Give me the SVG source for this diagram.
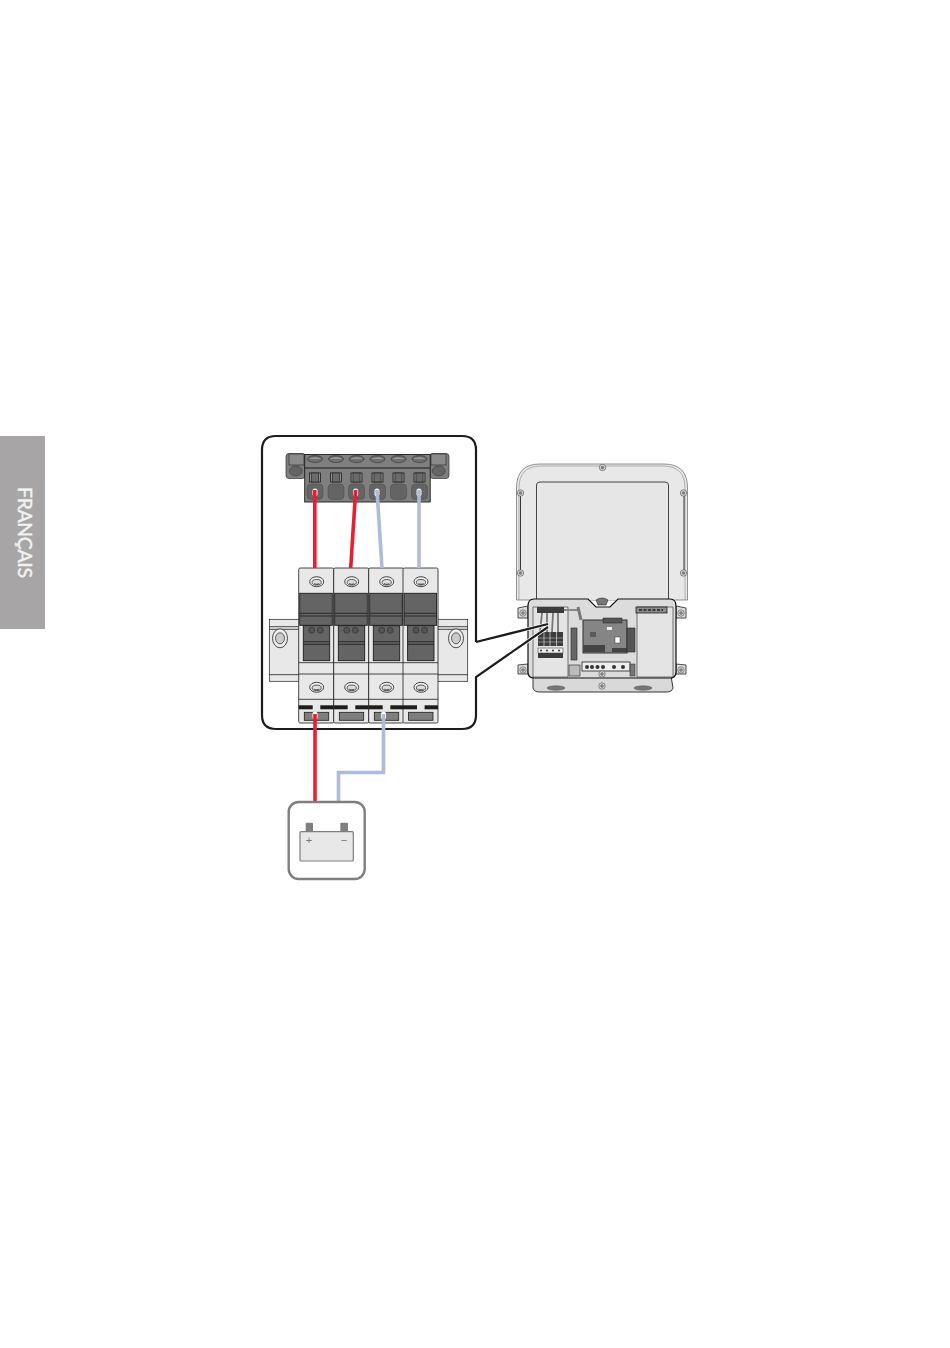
<svg xmlns="http://www.w3.org/2000/svg" width="950" height="1348" viewBox="0 0 950 1348">
<style>
.k{stroke:#1d1d1b;stroke-width:.8}
.l{fill:#e8e8e8;stroke:#1d1d1b;stroke-width:.7}
.d{fill:#656464;stroke:#1d1d1b;stroke-width:.9}
.g{fill:#807f7f;stroke:#333;stroke-width:.7}
.w{fill:none;stroke-width:3.6}
.r{stroke:#ed1c2e}.b{stroke:#aebbd9}
.t{fill:#f2f2f2;stroke:#f2f2f2;stroke-width:.45;font-family:"Lato","Open Sans",sans-serif;font-size:19.500px}
.s{fill:none;stroke:#333;stroke-width:.7}
.m{fill:#666;stroke:#222;stroke-width:.5}
</style>
<defs>
<g id="screw"><ellipse cx="0" cy="0" rx="7" ry="5" fill="#eee" stroke="#1d1d1b" stroke-width=".8"/><ellipse cx="0" cy=".6" rx="4.600" ry="2.800" fill="#ddd" stroke="#1d1d1b" stroke-width=".7"/><path d="M-2.500 1.800A2.800 1.400 0 0 0 2.500 1.800" fill="none" stroke="#1d1d1b" stroke-width=".8"/></g>
<g id="fuse">
<rect x="0" y="0" width="35" height="155" rx="1.500" fill="#e8e8e8" stroke="#1d1d1b" stroke-width=".8"/>
<rect x="1" y="25.300" width="32.600" height="32" class="d"/>
<path d="M1 45.300H33.600M1 48H33.600" class="k" fill="none"/>
<rect x="4.600" y="57.700" width="26.400" height="35" class="d"/>
<path d="M4.600 73.700H31M4.600 76.300H31" class="k" fill="none"/>
<circle cx="13" cy="62.300" r="3" fill="#555454" stroke="#222" stroke-width=".5"/><circle cx="21.600" cy="62.300" r="3" fill="#555454" stroke="#222" stroke-width=".5"/>
<path d="M0 94.700H35M0 106H35M0 131.300H35" class="k" fill="none"/>
<rect x="0" y="137.300" width="14" height="4" fill="#1d1d1b"/><rect x="21.600" y="137.300" width="13.400" height="4" fill="#1d1d1b"/>
<rect x="5.600" y="144.300" width="24.400" height="8" fill="#807f7f" stroke="#1d1d1b" stroke-width=".8"/>
<use href="#screw" x="18" y="13.700"/><use href="#screw" x="18" y="119.300"/>
</g>
<g id="sl"><ellipse cx="0" cy="0" rx="7.500" ry="3.600" fill="#6f6e6e" stroke="#333" stroke-width=".6"/><path d="M-7 0A7.500 3.600 0 0 1 7 0" fill="#9a9a9a" stroke="#333" stroke-width=".5"/></g>
<g id="port"><rect x="-5.500" y="-6" width="11" height="9" fill="#8c8c8c" stroke="#1d1d1b" stroke-width=".8"/><rect x="-3.500" y="-6" width="7" height="9" fill="#6a6a6a" stroke="#1d1d1b" stroke-width=".6"/><rect x="-8" y="5" width="16" height="15.500" rx="4" fill="#656464" stroke="#4a4a4a" stroke-width=".5"/></g>
<g id="isc"><circle r="3.200" fill="#ddd" stroke="#444" stroke-width=".6"/><circle r="1.500" fill="#888" stroke="#333" stroke-width=".3"/></g>
</defs>

<g id="tab"><rect x="0" y="436" width="45" height="193" fill="#a7a5a6"/>
<text class="t" transform="translate(18 487) rotate(90)" textLength="91" lengthAdjust="spacing">FRANÇAIS</text></g>

<g id="inverter">
<path d="M516.500 600V488Q516.500 464 540 464H664Q687.500 464 687.500 488V600Z" fill="#e8e8e8" stroke="#777" stroke-width=".8"/>
<path d="M519 600V488Q519 466 541 466H663Q685 466 685 488V600" fill="none" stroke="#888" stroke-width=".6"/>
<path d="M520.500 496V570M684 496V570" fill="none" stroke="#222" stroke-width=".9"/>
<path d="M536.500 600V485Q536.500 482 540 482H665Q668.500 482 668.500 485V600" fill="#e6e6e6" stroke="#333" stroke-width=".9"/>
<use href="#isc" x="602.500" y="467.500"/><use href="#isc" x="520.500" y="493"/><use href="#isc" x="683.500" y="493"/><use href="#isc" x="520.500" y="573"/><use href="#isc" x="683.500" y="573"/>

<path d="M518 608L528 606V618L518 618ZM518 665L528 664V674L518 674ZM686 608L676 606V618L686 618ZM686 665L676 664V674L686 674Z" fill="#ddd" stroke="#222" stroke-width=".8"/>
<path d="M533 676H671L673 688Q672 692 666 692H540Q534 692 533 688Z" fill="#d9d9d9" stroke="#222" stroke-width=".9"/>
<path d="M534 599H588L596 607H610L618 599H670Q676 599 676 606V672Q676 678 670 678H534Q528 678 528 672V606Q528 599 534 599Z" fill="#dcdcdc" stroke="#111" stroke-width="1.200"/>
<path d="M533 607H568V677H533ZM637 607H673V677H637Z" fill="#e4e4e4" stroke="#444" stroke-width=".7"/>
<path d="M596 600Q602 596 608 600L606 605H598Z" fill="#777" stroke="#222" stroke-width=".6"/>
<rect x="537" y="607" width="27" height="6" fill="#3c3c3c"/>
<rect x="564" y="609" width="16" height="2" fill="#888"/>
<rect x="636" y="607" width="31" height="6" fill="#8b8b8b" stroke="#222" stroke-width=".8"/>
<path d="M639 610H663" stroke="#222" stroke-width="1.500" stroke-dasharray="3 1.500"/>
<path d="M578 607L581 620" stroke="#777" stroke-width="3"/>
<path d="M542 613L540 632M547 613V632M553 613L552 632M558 613V632" stroke="#777" stroke-width="1.800"/>
<rect x="538" y="632" width="25" height="14" fill="#3c3c3c"/>
<path d="M544 632V658M550 632V658M556.500 632V658" stroke="#ddd" stroke-width=".7"/>
<path d="M538 638H563M538 642H563" stroke="#ccc" stroke-width=".5"/>
<rect x="538" y="648" width="25" height="5" fill="#eee" stroke="#333" stroke-width=".5"/>
<g fill="#333"><circle cx="541" cy="650.500" r="1"/><circle cx="547" cy="650.500" r="1"/><circle cx="553" cy="650.500" r="1"/><circle cx="559" cy="650.500" r="1"/></g>
<rect x="538" y="653" width="25" height="5" fill="#3c3c3c"/>
<rect x="583" y="620" width="44" height="33" fill="#858585" stroke="#222" stroke-width=".9"/>
<rect x="603" y="618" width="19" height="5" fill="#555" stroke="#222" stroke-width=".5"/>
<rect x="615" y="637" width="5" height="6" fill="#fff" stroke="#222" stroke-width=".4"/>
<rect x="607" y="627" width="5" height="3" fill="#eee"/>
<rect x="590" y="632" width="6" height="5" fill="#5a5a5a"/>
<rect x="583" y="645" width="22" height="7" fill="#444"/>
<rect x="612" y="648" width="15" height="4" fill="#444"/>
<rect x="571" y="628" width="6" height="32" fill="#666" stroke="#222" stroke-width=".6"/>
<path d="M627 628H635V652H627Z" fill="#555" stroke="#222" stroke-width=".6"/>
<rect x="582" y="662" width="48" height="9" fill="#eee" stroke="#222" stroke-width=".8"/>
<g fill="#333"><circle cx="587" cy="667" r="2"/><circle cx="592" cy="667" r="2"/><circle cx="597.500" cy="667" r="2"/><circle cx="603" cy="667" r="2"/><circle cx="614" cy="667" r="2"/><circle cx="623" cy="667" r="2"/></g>
<rect x="569" y="665" width="11" height="11" fill="#bbb" stroke="#222" stroke-width=".6"/>
<rect x="630" y="664" width="5" height="12" fill="#777" stroke="#222" stroke-width=".5"/>
<g fill="#777" stroke="#333" stroke-width=".4"><ellipse cx="556" cy="688" rx="9" ry="2.200"/><ellipse cx="643" cy="688" rx="9" ry="2.200"/></g>
<use href="#isc" x="602" y="686"/><use href="#isc" x="523" y="613"/><use href="#isc" x="681" y="613"/><use href="#isc" x="523" y="670"/><use href="#isc" x="681" y="670"/><use href="#isc" x="602" y="674"/>
</g>

<g id="detail">
<path d="M476 642L548 624M476 677L548 627" fill="none" stroke="#fff" stroke-width="3.600"/>
<path d="M476 642V450Q476 436 462 436H276Q262 436 262 450V715Q262 729 276 729H462Q476 729 476 715V677L548 627M476 642L548 624" fill="none" stroke="#1d1d1b" stroke-width="2.200"/>
</g>

<g id="rail">
<rect x="269.300" y="619.300" width="30" height="62" class="l"/><rect x="437.700" y="619.300" width="30" height="62" class="l"/>
<path d="M269.300 626.700H299M269.300 629.300H299M269.300 674.700H299M437.700 626.700H467.700M437.700 629.300H467.700M437.700 674.700H467.700" class="k" fill="none"/>
<ellipse cx="280" cy="638.300" rx="7.500" ry="9.500" fill="#ececec" stroke="#222" stroke-width=".8"/><ellipse cx="280" cy="638.300" rx="4.500" ry="5.500" fill="#ccc" stroke="#222" stroke-width=".7"/>
<ellipse cx="456" cy="638.300" rx="7.500" ry="9.500" fill="#ececec" stroke="#222" stroke-width=".8"/><ellipse cx="456" cy="638.300" rx="4.500" ry="5.500" fill="#ccc" stroke="#222" stroke-width=".7"/>
</g>
<g id="fuse1"><use href="#fuse" x="298.700" y="568"/></g>
<g id="fuse2"><use href="#fuse" x="333.700" y="568"/></g>
<g id="fuse3"><use href="#fuse" x="368.700" y="568"/></g>
<g id="fuse4"><use href="#fuse" x="403" y="568"/></g>

<g id="connector">
<rect x="286" y="453.500" width="19" height="25" rx="3" class="g"/><rect x="430" y="453.500" width="19" height="25" rx="3" class="g"/>
<rect x="289" y="454" width="15" height="11" fill="#8a8a8a" stroke="#333" stroke-width=".7"/><rect x="431" y="454" width="15" height="11" fill="#8a8a8a" stroke="#333" stroke-width=".7"/>
<ellipse cx="295.700" cy="471" rx="6.500" ry="5" fill="#656464" stroke="#333" stroke-width=".5"/><ellipse cx="438.700" cy="471" rx="6.500" ry="5" fill="#656464" stroke="#333" stroke-width=".5"/>
<rect x="304.700" y="454.500" width="125.500" height="47.500" fill="#807f7f" stroke="#1d1d1b" stroke-width=".9"/>
<path d="M304.700 468H430.200" stroke="#1d1d1b" stroke-width="1" fill="none"/>
<use href="#sl" x="315" y="459"/><use href="#sl" x="336" y="459"/><use href="#sl" x="356.500" y="459"/><use href="#sl" x="377.500" y="459"/><use href="#sl" x="398.500" y="459"/><use href="#sl" x="419.500" y="459"/>
<use href="#port" x="315" y="479"/><use href="#port" x="336" y="479"/><use href="#port" x="356.500" y="479"/><use href="#port" x="377.500" y="479"/><use href="#port" x="398.500" y="479"/><use href="#port" x="419.500" y="479"/>
</g>

<g id="connectors">
<g fill="none" stroke="#fff" stroke-width="5" stroke-linecap="round"><path d="M315 491V494M355.700 491V494M377 491V494M419 491V494M315 714V717M383.500 714V717"/></g>
<path class="w r" d="M314.800 490V568"/>
<path class="w r" d="M355.700 490L350.700 568"/>
<path class="w b" d="M377 490L382 568"/>
<path class="w b" d="M419 490V568"/>
<path class="w r" d="M315 714V802"/>
<path class="w b" d="M383.500 714V772.500H338.500V802"/>
</g>

<g id="battery">
<rect x="288.700" y="802" width="76" height="77" rx="10" fill="#fff" stroke="#7f7f7f" stroke-width="2.400"/>
<rect x="305.700" y="822.700" width="7.300" height="9" rx="1" fill="#7f7f7f"/><rect x="340.300" y="822.700" width="7.700" height="9" rx="1" fill="#7f7f7f"/>
<rect x="300" y="831.700" width="53.300" height="29.300" rx="1" fill="#e8e8e8" stroke="#7f7f7f" stroke-width="1.200"/>
<text x="309" y="844" text-anchor="middle" font-family="Liberation Sans,sans-serif" font-size="11" fill="#777">+</text>
<text x="344" y="844" text-anchor="middle" font-family="Liberation Sans,sans-serif" font-size="11" fill="#777">−</text>
</g>
</svg>
